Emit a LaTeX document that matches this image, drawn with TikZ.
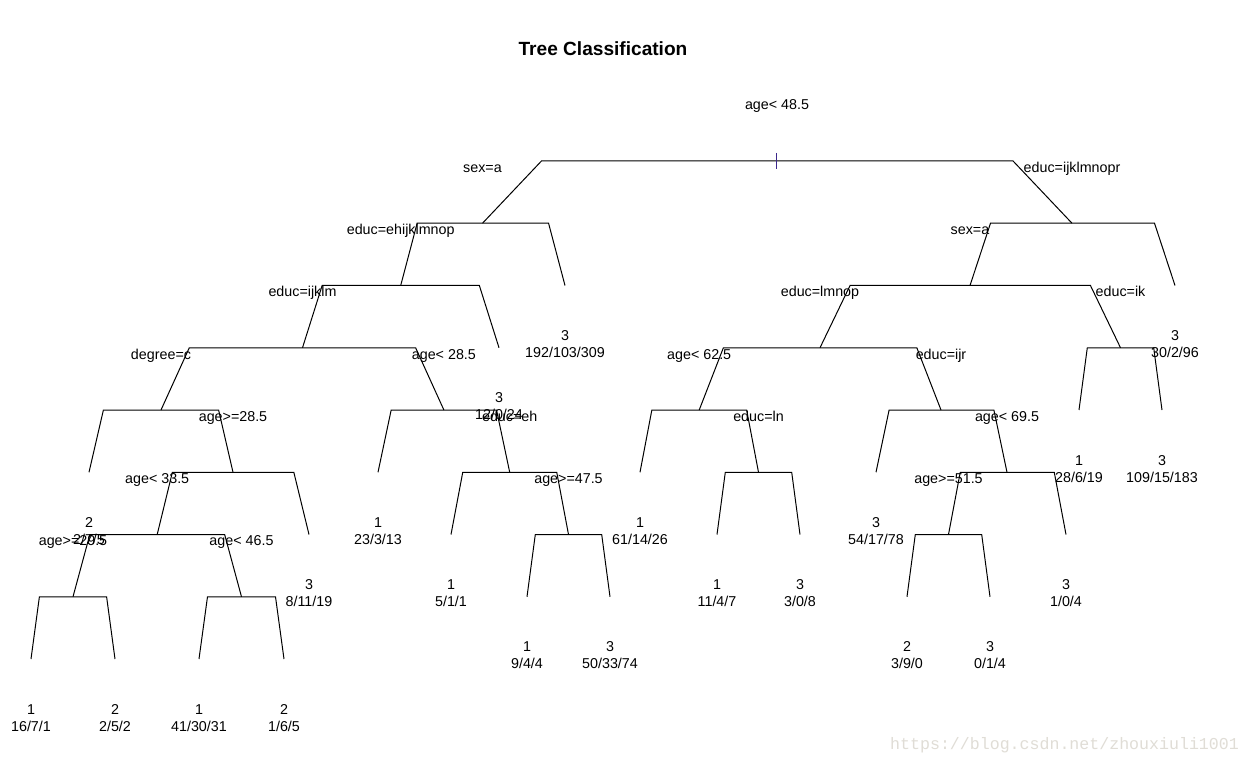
\documentclass[tikz,border=0pt]{standalone}
\usepackage{fontspec}
\setmainfont{Liberation Sans}
\newfontfamily\wmfont{Liberation Mono}
\usetikzlibrary{calc}
\definecolor{wmgray}{RGB}{224,221,214}
\definecolor{tickcol}{RGB}{60,40,140}
\tikzset{
  branchline/.style={draw=black, line width=1pt},
  lab/.style={anchor=base, inner sep=0pt, font=\fontsize{14.3}{16}\selectfont},
  titlelab/.style={anchor=base, inner sep=0pt, font=\fontsize{19.1}{22}\selectfont\bfseries},
  wmlab/.style={anchor=base west, inner sep=0pt, text=wmgray, font=\fontsize{16.6}{18}\selectfont\wmfont},
}
\newcommand\rbranch[3]{%
  \path ($(#2)!0.1!(#3)$) coordinate (#1-l) ($(#2)!0.9!(#3)$) coordinate (#1-r);
  \draw[branchline] (#2) -- (#1-l |- #1) -- (#1-r |- #1) -- (#3);
}
\newcommand\splitlab[2]{\node[lab] (#1-t) at ($(#1)+(0,-51)$) {#2};}
\newcommand\leaflab[3]{\node[lab] (#1-c) at ($(#1)+(0,55)$) {#2};
  \node[lab] (#1-n) at ($(#1)+(0,72)$) {#3};}
\begin{document}
\begin{tikzpicture}[x=1pt,y=-1pt]
\path[use as bounding box, fill=white] (0,0) rectangle (1251,762);
% levels
\def\ya{161}\def\yb{223.25}\def\yc{285.5}\def\yd{347.75}\def\ye{410}
\def\yf{472.25}\def\yg{534.5}\def\yh{596.75}\def\yi{659}
% nodes
\coordinate (root) at (777,\ya);
\coordinate (A) at (482.5,\yb);
\coordinate (B) at (1072,\yb);
\coordinate (A1) at (400.7,\yc);
\coordinate (A2) at (565,\yc);
\coordinate (A1a) at (302.5,\yd);
\coordinate (A1b) at (499,\yd);
\coordinate (C) at (161,\ye);
\coordinate (H) at (443.9,\ye);
\coordinate (Cl) at (89,\yf);
\coordinate (D) at (233,\yf);
\coordinate (E) at (157.2,\yg);
\coordinate (Dr) at (309,\yg);
\coordinate (F) at (73,\yh);
\coordinate (G) at (241.5,\yh);
\coordinate (F1) at (31,\yi);
\coordinate (F2) at (115,\yi);
\coordinate (G1) at (199,\yi);
\coordinate (G2) at (284,\yi);
\coordinate (Hl) at (378,\yf);
\coordinate (I) at (509.7,\yf);
\coordinate (Il) at (451,\yg);
\coordinate (J) at (568.5,\yg);
\coordinate (J1) at (527,\yh);
\coordinate (J2) at (610,\yh);
\coordinate (K) at (970,\yc);
\coordinate (Br) at (1175,\yc);
\coordinate (L) at (820,\yd);
\coordinate (M) at (1120.5,\yd);
\coordinate (N) at (699.2,\ye);
\coordinate (O) at (941,\ye);
\coordinate (Nl) at (640,\yf);
\coordinate (P) at (758.5,\yf);
\coordinate (P1) at (717,\yg);
\coordinate (P2) at (800,\yg);
\coordinate (Ol) at (876,\yf);
\coordinate (Q) at (1007,\yf);
\coordinate (R) at (948.5,\yg);
\coordinate (Qr) at (1066,\yg);
\coordinate (R1) at (907,\yh);
\coordinate (R2) at (990,\yh);
\coordinate (M1) at (1079,\ye);
\coordinate (M2) at (1162,\ye);
% branches
\rbranch{root}{A}{B}
\rbranch{A}{A1}{A2}
\rbranch{A1}{A1a}{A1b}
\rbranch{A1a}{C}{H}
\rbranch{C}{Cl}{D}
\rbranch{D}{E}{Dr}
\rbranch{E}{F}{G}
\rbranch{F}{F1}{F2}
\rbranch{G}{G1}{G2}
\rbranch{H}{Hl}{I}
\rbranch{I}{Il}{J}
\rbranch{J}{J1}{J2}
\rbranch{B}{K}{Br}
\rbranch{K}{L}{M}
\rbranch{L}{N}{O}
\rbranch{N}{Nl}{P}
\rbranch{P}{P1}{P2}
\rbranch{O}{Ol}{Q}
\rbranch{Q}{R}{Qr}
\rbranch{R}{R1}{R2}
\rbranch{M}{M1}{M2}
% root tick
\coordinate (tickTop) at ($(root)+(-1,-8)$);
\coordinate (tickBot) at ($(root)+(-1,8)$);
\draw[tickcol, line width=1pt] (tickTop) -- (tickBot);
% split labels
\splitlab{root}{age< 48.5}
\splitlab{A}{sex=a}
\splitlab{B}{educ=ijklmnopr}
\splitlab{A1}{educ=ehijklmnop}
\splitlab{A1a}{educ=ijklm}
\splitlab{C}{degree=c}
\splitlab{H}{age< 28.5}
\splitlab{D}{age>=28.5}
\splitlab{E}{age< 33.5}
\splitlab{F}{age>=29.5}
\splitlab{G}{age< 46.5}
\splitlab{I}{educ=eh}
\splitlab{J}{age>=47.5}
\splitlab{K}{sex=a}
\splitlab{L}{educ=lmnop}
\splitlab{M}{educ=ik}
\splitlab{N}{age< 62.5}
\splitlab{O}{educ=ijr}
\splitlab{P}{educ=ln}
\splitlab{Q}{age< 69.5}
\splitlab{R}{age>=51.5}
% leaf labels
\leaflab{A2}{3}{192/103/309}
\leaflab{A1b}{3}{12/0/24}
\leaflab{Cl}{2}{2/7/5}
\leaflab{Dr}{3}{8/11/19}
\leaflab{F1}{1}{16/7/1}
\leaflab{F2}{2}{2/5/2}
\leaflab{G1}{1}{41/30/31}
\leaflab{G2}{2}{1/6/5}
\leaflab{Hl}{1}{23/3/13}
\leaflab{Il}{1}{5/1/1}
\leaflab{J1}{1}{9/4/4}
\leaflab{J2}{3}{50/33/74}
\leaflab{Br}{3}{30/2/96}
\leaflab{Nl}{1}{61/14/26}
\leaflab{P1}{1}{11/4/7}
\leaflab{P2}{3}{3/0/8}
\leaflab{Ol}{3}{54/17/78}
\leaflab{Qr}{3}{1/0/4}
\leaflab{R1}{2}{3/9/0}
\leaflab{R2}{3}{0/1/4}
\leaflab{M1}{1}{28/6/19}
\leaflab{M2}{3}{109/15/183}
% title and watermark
\node[titlelab] (title) at (603,56) {Tree Classification};
\node[wmlab] (wm) at (890,749) {https://blog.csdn.net/zhouxiuli1001};
\end{tikzpicture}
\end{document}
